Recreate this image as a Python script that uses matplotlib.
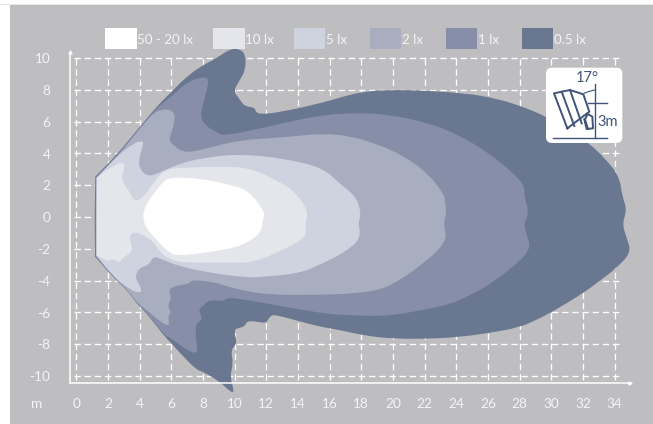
import matplotlib
matplotlib.use("Agg")
import matplotlib.pyplot as plt
from matplotlib.patches import FancyBboxPatch, PathPatch, Rectangle
from matplotlib.path import Path

plt.rcParams['font.family'] = ['Lato', 'DejaVu Sans']

# outlines of each lux zone (metres)
lx_05 = [(1.16, 0), (1.2, 2.54), (2.55, 3.9), (4.02, 5.68), (5.07, 6.94), (6.13, 7.99), (6.86, 8.72), (7.81, 9.45),
         (8.86, 9.98), (9.7, 10.57), (10.34, 10.57), (10.69, 10.19), (10.69, 9.25), (10.34, 8.62), (9.92, 7.95),
         (10.34, 7.36), (10.65, 6.94), (11.28, 6.9), (11.39, 6.42), (13.07, 6.62), (15.58, 7.19), (16.84, 7.57),
         (18.3, 7.92), (20.2, 7.99), (21.9, 7.95), (24.6, 7.78), (26.5, 7.46), (28.2, 6.94), (29.68, 6.31),
         (31.2, 5.47), (32.4, 4.63), (33.5, 3.58), (34.3, 2.54), (34.5, 1.28), (34.78, 0.44), (34.48, -0.44),
         (34.78, -1.34), (35.05, -2.24), (34.1, -3.23), (33.05, -4.03), (32.0, -4.8), (30.1, -5.95), (29.05, -6.48),
         (28.0, -6.94), (26.1, -7.3), (24.0, -7.57), (21.9, -7.67), (20.0, -7.65), (18.3, -7.48), (16.6, -7.1),
         (15.58, -6.94), (14.13, -6.58), (12.65, -6.16), (12.23, -6.2), (12.02, -6.69), (11.39, -6.58),
         (10.76, -6.54), (10.65, -6.9), (10.13, -7.0), (9.96, -7.2), (10.17, -7.95), (9.75, -8.36), (9.92, -9.2),
         (9.7, -10.04), (10.0, -11.05), (9.7, -10.98), (9.07, -10.36), (8.0, -9.73), (7.6, -9.62), (6.76, -8.78),
         (6.0, -7.95), (5.5, -7.42), (4.44, -6.06), (3.8, -5.43), (3.2, -4.59), (2.44, -3.92), (1.18, -2.49)]

lx_1 = [(1.22, 0), (1.24, 2.5), (2.58, 3.85), (4.05, 5.65), (5.1, 6.9), (6.13, 7.67), (7.0, 8.5), (8.4, 8.93),
        (8.23, 7.78), (7.75, 6.31), (8.34, 5.58), (8.86, 5.37), (9.28, 5.09), (11.18, 5.47), (13.5, 6.0),
        (15.58, 6.42), (17.9, 6.56), (19.8, 6.42), (21.9, 6.0), (24, 5.26), (26.1, 4.0), (27.6, 2.75), (28.3, 2.0),
        (28.3, 1.28), (28.6, 0.23), (28.25, -0.44), (28.46, -1.13), (28.7, -1.97), (28.0, -2.81), (26.1, -4.28),
        (24.6, -5.05), (23.6, -5.49), (21.9, -5.85), (20, -6.18), (18.7, -6.23), (16.6, -6.16), (15.58, -6.06),
        (13.07, -5.64), (11.0, -5.25), (9.5, -5.05), (9.4, -5.3), (8.34, -5.2), (8.0, -5.64), (7.7, -5.79),
        (8.0, -6.48), (7.5, -6.69), (7.6, -7.95), (7.66, -8.64), (6.97, -8.36), (6.13, -7.74), (5.5, -7.38),
        (4.44, -6.02), (3.8, -5.39), (3.2, -4.55), (2.44, -3.88), (1.22, -2.47)]

lx_2 = [(1.25, 0), (1.27, 2.48), (2.6, 3.82), (4.05, 5.62), (5.07, 6.75), (6.17, 6.77), (6.23, 5.89), (5.81, 4.84),
        (6.23, 4.42), (6.76, 4.1), (7.4, 4.1), (8.65, 4.42), (10.34, 4.84), (13.07, 5.0), (15.58, 5.26),
        (17.26, 5.09), (18.9, 4.63), (20.8, 3.79), (22.3, 2.64), (23.26, 1.38), (23.26, 1.07), (23.4, 0.23),
        (23.16, -0.4), (23.47, -1.55), (21.7, -3.12), (20.1, -4.17), (19.16, -4.59), (17.7, -4.8), (15.58, -4.9),
        (12.0, -4.9), (9.9, -4.49), (8.65, -4.07), (7.28, -3.96), (7.18, -4.17), (6.55, -4.28), (5.81, -4.49),
        (6.02, -5.1), (5.75, -5.64), (6.02, -5.95), (5.77, -6.27), (5.92, -6.9), (5.28, -6.58), (4.44, -5.85),
        (3.8, -5.37), (3.2, -4.53), (2.44, -3.86), (1.25, -2.46)]

lx_5 = [(1.27, 0), (1.28, 2.46), (2.55, 3.8), (3.6, 4.63), (4.13, 4.8), (4.27, 4.63), (3.92, 3.58), (4.02, 2.96),
        (4.55, 2.54), (5.18, 2.75), (6.55, 3.38), (8.23, 3.75), (10.34, 3.96), (13.07, 3.69), (15.58, 3.1),
        (16.63, 2.1), (17.68, 1.28), (18, 0.23), (17.8, -0.4), (17.96, -1.03), (17.7, -1.66), (16.63, -2.39),
        (15.58, -2.91), (14.13, -3.54), (12, -3.75), (10.76, -3.82), (8.65, -3.54), (6.55, -3.13), (5.28, -2.6),
        (4.86, -2.49), (4.59, -3.02), (3.92, -3.23), (3.7, -3.86), (4.19, -4.59), (3.92, -4.8), (3.3, -4.49),
        (2.44, -3.85), (1.27, -2.44)]

lx_10 = [(1.29, 0), (1.3, 2.44), (1.92, 2.96), (2.44, 3.27), (2.97, 3.48), (3.08, 3.06), (2.8, 2.43), (3.28, 1.7),
         (3.7, 0.96), (4.13, 1.17), (4.65, 1.8), (5.07, 2.43), (5.6, 2.96), (6.55, 3.1), (9.55, 3.17), (11, 3.06),
         (12.6, 2.33), (13.7, 1.7), (14.66, 0.44), (14.45, -0.5), (14.55, -1.24), (13.5, -1.87), (11.18, -2.9),
         (9.5, -2.85), (7, -2.9), (5.9, -2.7), (5.28, -2.2), (4.86, -1.55), (4.23, -1.13), (3.9, -0.99),
         (3.49, -0.99), (3.35, -1.34), (3.6, -2.18), (2.87, -2.6), (2.76, -2.91), (2.44, -2.7), (2.2, -2.66),
         (2.0, -2.81), (1.29, -2.42)]

lx_20 = [(4.23, 0.23), (4.44, 0.86), (5.07, 1.7), (5.5, 2.22), (5.92, 2.5), (7.8, 2.43), (9.9, 2.0), (10.95, 1.6),
         (11.96, 0.23), (11.75, -0.19), (11.7, -1.03), (10.34, -1.87), (8.65, -2.18), (6.55, -2.45), (5.9, -2.28),
         (5.28, -1.66), (4.9, -1.24), (4.34, -0.6), (4.23, 0)]

zones = [lx_05, lx_1, lx_2, lx_5, lx_10, lx_20]
zone_colors = ['#697791', '#878EA8', '#A8AEBF', '#CFD2DF', '#E4E6EC', '#FFFFFF']

legend_labels = ['50 - 20 lx', '10 lx', '5 lx', '2 lx', '1 lx', '0.5 lx']
legend_colors = ['#FFFFFF', '#E4E6EC', '#CFD2DF', '#A8AEBF', '#878EA8', '#697791']
legend_left = [105, 213, 293.5, 369.5, 445.5, 521.5]

x_ticks = list(range(0, 35, 2))
y_ticks = list(range(-10, 11, 2))

W, H = 653, 424
bg = '#BEBEC0'
txt = '#F4F4F6'


def zone_path(pts):
    # outline vertices act as curve controls, the flat left edge stays sharp
    n = len(pts)
    mid = lambda a, b: ((a[0] + b[0]) / 2, (a[1] + b[1]) / 2)
    verts = [mid(pts[-1], pts[0])]
    codes = [Path.MOVETO]
    for i, p in enumerate(pts):
        m = mid(p, pts[(i + 1) % n])
        if p[0] < 1.4:
            verts += [p, m]
            codes += [Path.LINETO, Path.LINETO]
        else:
            verts += [p, m]
            codes += [Path.CURVE3, Path.CURVE3]
    return Path(verts, codes)


fig = plt.figure(figsize=(W / 100, H / 100), dpi=100, facecolor='white')
ax = fig.add_axes([10 / W, 0, (W - 10) / W, 419 / H], facecolor=bg)
ax.set_xlim(-4.19, 36.43)
ax.set_ylim(-13.02, 13.33)
ax.axis('off')
ax.add_patch(Rectangle((-4.19, -13.02), 40.62, 26.35, fc=bg, ec='none', zorder=0))
fig.add_artist(Rectangle((0, 419 / H), 1, 1.5 / H, transform=fig.transFigure, fc='#E6E6E6', ec='none'))

# dashed grid goes under the zones
dash = (0, (4.8, 2.9))
for xv in x_ticks:
    ax.plot([xv, xv], [-10.25, 10.15], color='white', lw=0.95, ls=dash, zorder=1)
for yv in y_ticks:
    ax.plot([-0.15, 34.3], [yv, yv], color='white', lw=0.95, ls=dash, zorder=1)

for pts, col in zip(zones, zone_colors):
    ax.add_patch(PathPatch(zone_path(pts), fc=col, ec='none', zorder=2))

# axis lines with small arrow heads
ax.plot([-0.4, -0.4], [-10.46, 10.3], color='white', lw=1.1, zorder=3)
ax.plot([-0.4, 34.9], [-10.46, -10.46], color='white', lw=1.1, zorder=3)
ax.plot([-0.4], [10.35], marker='^', ms=2.2, color='white', zorder=3)
ax.plot([34.95], [-10.46], marker='>', ms=2.2, color='white', zorder=3)

for xv in x_ticks:
    ax.text(xv, -11.78, str(xv), color=txt, fontsize=9.8, ha='center', va='center')
for yv in y_ticks:
    ax.text(-1.65, yv - 0.08, str(yv), color=txt, fontsize=9.8, ha='right', va='center')
ax.text(-2.15, -11.78, 'm', color=txt, fontsize=9.8, ha='right', va='center')

# legend swatches, placed in picture pixels
for left, col, lab in zip(legend_left, legend_colors, legend_labels):
    fig.add_artist(Rectangle((left / W, 1 - 48.7 / H), 31.5 / W, 20.2 / H, transform=fig.transFigure,
                             fc=col, ec='none'))
    fig.text((left + 32) / W, 1 - 40.5 / H, lab, color=txt, fontsize=9.6, ha='left', va='center')

# mounting sketch box
icon = fig.add_axes([535 / W, 1 - 150 / H, 100 / W, 90 / H])
icon.set_xlim(0, 300)
icon.set_ylim(270, 0)
icon.axis('off')
icon.add_patch(FancyBboxPatch((33, 23), 229, 226, boxstyle='round,pad=0,rounding_size=18', fc='white', ec='none',
                              mutation_scale=1))
ink = '#3F5478'
icon.plot([55, 215], [233, 233], color=ink, lw=1)
icon.plot([180, 180], [72, 233], color=ink, lw=1)
icon.plot([160, 215], [130, 130], color=ink, lw=1)
icon.plot([97, 57, 105, 145, 163, 97], [205, 100, 90, 103, 155, 205], color=ink, lw=1.4)
icon.plot([80, 118], [95, 198], color=ink, lw=1.4)
icon.plot([105, 140], [90, 190], color=ink, lw=1.4)
icon.plot([158, 150, 158, 172, 174, 155, 148], [205, 178, 162, 170, 205, 207, 178], color=ink, lw=1.4)
icon.plot([147, 160, 178], [100, 95, 90], color=ink, lw=0.8)
icon.text(157, 55, '17°', color=ink, fontsize=10.5, ha='center', va='center')
icon.text(219, 187, '3m', color=ink, fontsize=10.5, ha='center', va='center')

fig.savefig('out.png', dpi=100)
